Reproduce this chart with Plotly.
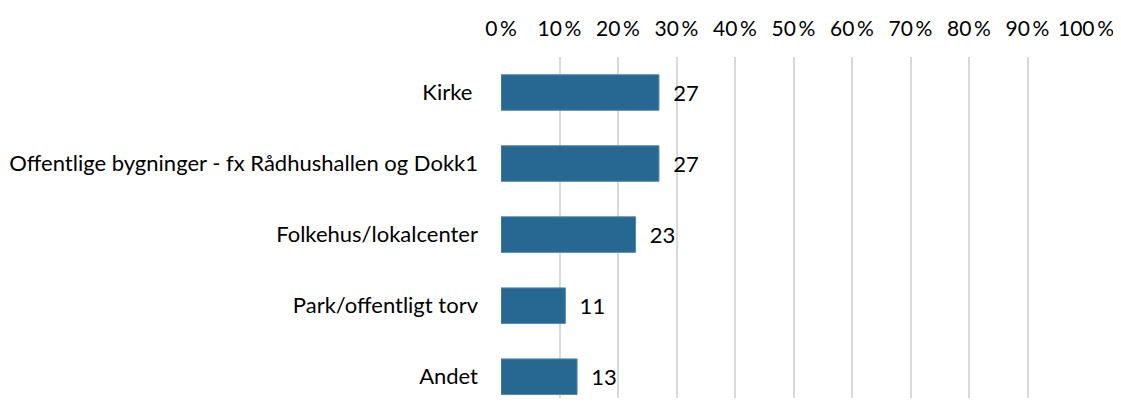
import plotly.graph_objects as go

categories = ["Kirke ", "Offentlige bygninger - fx Rådhushallen og Dokk1", "Folkehus/lokalcenter",
              "Park/offentligt torv", "Andet"]
values = [27, 27, 23, 11, 13]
tick_vals = [0, 10, 20, 30, 40, 50, 60, 70, 80, 90, 100]
tick_text = [f"{v}\u2009%" for v in tick_vals]

FONT = "Lato, Open Sans, sans-serif"
FS = 22

fig = go.Figure(go.Bar(
    x=values, y=categories, orientation="h",
    marker=dict(color="#276893", line=dict(color="#4f87ad", width=1)),
    width=0.5,
    text=values, texttemplate="  %{text}", textposition="outside",
    textfont=dict(family=FONT, size=FS, color="#000000"),
    cliponaxis=False,
))

# page body has an 8px margin, so the figure is sized to fit inside the window
fig.update_layout(
    width=1113, height=390,
    margin=dict(l=493, r=35, t=49, b=0),
    plot_bgcolor="white", paper_bgcolor="white",
    showlegend=False,
    font=dict(family=FONT, size=FS, color="#000000"),
    bargap=0.5,
)
fig.update_xaxes(
    side="top", range=[0, 100], tickvals=tick_vals, ticktext=tick_text,
    showgrid=True, gridcolor="#d9d9d9", gridwidth=1.5,
    zeroline=False, showline=False, ticks="", ticklabelstandoff=16,
    tickfont=dict(family=FONT, size=21, color="#000000"),
    automargin=False,
)
fig.update_yaxes(
    categoryorder="array", categoryarray=categories,
    range=[4.30, -0.5], showgrid=False, zeroline=False, showline=False,
    ticks="", ticklabelstandoff=22,
    tickfont=dict(family=FONT, size=FS, color="#000000"),
    automargin=False,
)

fig.write_html("out.html")
